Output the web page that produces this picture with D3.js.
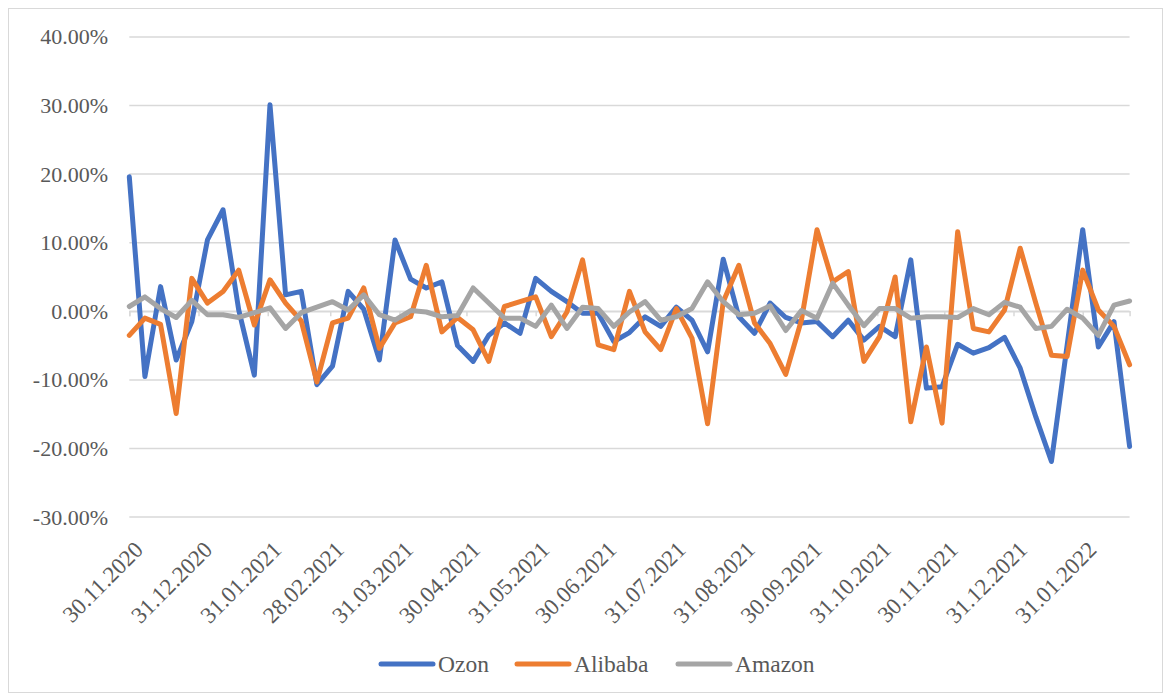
<!DOCTYPE html>
<html>
<head>
<meta charset="utf-8">
<script src="https://cdn.jsdelivr.net/npm/d3@7"></script>
<style>
    body { margin: 0; background: #fff; }
    text { font-family: "Liberation Serif", "Times New Roman", serif; fill: #595959; }
</style>
</head>
<body>
<svg id="chart" width="1169" height="698"></svg>
<script>
"use strict";

// weekly returns, first week 30.11.2020
var startDate = "30.11.2020";
var endDate = "21.02.2022";

var ozon = [19.6, -9.5, 3.6, -7.1, -1.5, 10.4, 14.8, 0.2, -9.3, 30.1,
    2.4, 2.9, -10.7, -8.0, 2.9, 0.3, -7.1, 10.4, 4.7, 3.4,
    4.3, -5.0, -7.3, -3.5, -1.7, -3.2, 4.8, 2.9, 1.4, -0.3,
    -0.3, -4.4, -3.1, -0.8, -2.2, 0.6, -1.3, -5.9, 7.6, -0.8,
    -3.2, 1.2, -0.9, -1.7, -1.5, -3.7, -1.3, -4.2, -2.2, -3.7,
    7.5, -11.2, -11.0, -4.8, -6.1, -5.3, -3.8, -8.3, -15.4, -21.9,
    -5.0, 11.9, -5.2, -1.5, -19.7];

var alibaba = [-3.5, -1.0, -1.9, -14.9, 4.8, 1.2, 2.9, 6.0, -2.0, 4.6,
    1.2, -1.4, -10.3, -1.7, -1.0, 3.4, -5.4, -1.7, -0.8, 6.7,
    -3.0, -0.9, -2.7, -7.3, 0.7, 1.4, 2.1, -3.7, -0.1, 7.5,
    -4.9, -5.6, 2.9, -3.0, -5.6, 0.4, -3.9, -16.4, 1.4, 6.7,
    -1.7, -4.7, -9.2, -1.3, 11.9, 4.3, 5.8, -7.3, -3.7, 5.0,
    -16.1, -5.2, -16.3, 11.6, -2.5, -3.0, 0.2, 9.2, 1.2, -6.4,
    -6.6, 6.0, 0.2, -2.2, -7.8];

var amazon = [0.7, 2.1, 0.4, -0.9, 1.6, -0.5, -0.5, -0.9, -0.2, 0.5,
    -2.5, -0.2, 0.6, 1.4, 0.2, 2.4, -0.5, -1.3, 0.1, -0.1,
    -0.8, -0.6, 3.4, 1.2, -1.0, -1.0, -2.2, 0.9, -2.5, 0.6,
    0.4, -2.2, -0.1, 1.4, -1.3, -0.8, 0.4, 4.3, 1.4, -0.5,
    -0.3, 0.8, -2.8, 0.1, -1.0, 4.1, 0.9, -2.1, 0.4, 0.4,
    -1.0, -0.8, -0.8, -0.9, 0.4, -0.5, 1.3, 0.6, -2.5, -2.2,
    0.3, -1.0, -3.5, 0.9, 1.5];

var tickLabels = ["30.11.2020", "31.12.2020", "31.01.2021", "28.02.2021", "31.03.2021",
    "30.04.2021", "31.05.2021", "30.06.2021", "31.07.2021", "31.08.2021",
    "30.09.2021", "31.10.2021", "30.11.2021", "31.12.2021", "31.01.2022"];

var yTicks = [-30, -20, -10, 0, 10, 20, 30, 40];

var seriesNames = ["Ozon", "Alibaba", "Amazon"];
var seriesColors = ["#4472C4", "#ED7D31", "#A5A5A5"];

var parseDate = d3.timeParse("%d.%m.%Y");
var dates = d3.timeMonday.range(parseDate(startDate), d3.timeDay.offset(parseDate(endDate), 1));

var svg = d3.select("#chart");

// outer chart border
svg.append("rect")
    .attr("x", 8.5).attr("y", 8.5)
    .attr("width", 1154).attr("height", 684)
    .attr("fill", "none")
    .attr("stroke", "#D9D9D9")
    .attr("stroke-width", 1);

var x = d3.scaleTime()
    .domain([parseDate(startDate), parseDate(endDate)])
    .range([129.3, 1129.6]);

var y = d3.scaleLinear()
    .domain([-30, 40])
    .range([517.1, 36.9]);

// gridlines
svg.append("g")
    .selectAll("line")
    .data(yTicks)
    .enter().append("line")
        .attr("x1", x.range()[0])
        .attr("x2", x.range()[1])
        .attr("y1", function(d) { return y(d); })
        .attr("y2", function(d) { return y(d); })
        .attr("stroke", "#D9D9D9")
        .attr("stroke-width", 1.5);

// y axis labels (plain hyphen for negatives, like the source)
var yAxis = d3.axisLeft(y)
    .tickValues(yTicks)
    .tickSize(0)
    .tickPadding(0)
    .tickFormat(function(d) { return (d < 0 ? "-" : "") + Math.abs(d).toFixed(2) + "%"; });

var yG = svg.append("g")
    .attr("transform", "translate(108,0)")
    .call(yAxis);
yG.select(".domain").remove();
yG.selectAll("text")
    .attr("font-size", 22)
    .style("font-family", "Liberation Serif, serif")
    .attr("fill", "#595959");

// x axis on zero line
var xAxis = d3.axisBottom(x)
    .tickValues(tickLabels.map(parseDate))
    .tickSize(5)
    .tickFormat(d3.timeFormat("%d.%m.%Y"));

var xG = svg.append("g")
    .attr("transform", "translate(0," + y(0) + ")")
    .call(xAxis);
xG.select(".domain").attr("stroke", "#D9D9D9").attr("stroke-width", 1.5);
xG.selectAll(".tick line").attr("stroke", "#D9D9D9").attr("stroke-width", 1.5);

// labels sit below the plot, rotated
xG.selectAll("text").remove();
svg.append("g")
    .selectAll("text")
    .data(tickLabels)
    .enter().append("text")
        .attr("transform", function(d) { return "translate(" + (x(parseDate(d)) + 3) + ",539) rotate(-45)"; })
        .attr("text-anchor", "end")
        .attr("dy", "0.75em")
        .attr("font-size", 23)
        .text(function(d) { return d; });

// series lines
var line = d3.line()
    .x(function(d, i) { return x(dates[i]); })
    .y(function(d) { return y(d); });

var allSeries = [ozon, alibaba, amazon];
var drawOrder = [0, 1, 2];

svg.append("g")
    .selectAll("path")
    .data(drawOrder)
    .enter().append("path")
        .attr("d", function(k) { return line(allSeries[k]); })
        .attr("fill", "none")
        .attr("stroke", function(k) { return seriesColors[k]; })
        .attr("stroke-width", 5)
        .attr("stroke-linejoin", "round")
        .attr("stroke-linecap", "round");

// legend
var legendX = [381, 517, 678];
var legend = svg.append("g")
    .selectAll("g")
    .data(seriesNames)
    .enter().append("g")
        .attr("transform", function(d, i) { return "translate(" + legendX[i] + ",664)"; });

legend.append("line")
    .attr("x1", 0).attr("x2", 52)
    .attr("y1", 0).attr("y2", 0)
    .attr("stroke", function(d, i) { return seriesColors[i]; })
    .attr("stroke-width", 5)
    .attr("stroke-linecap", "round");

legend.append("text")
    .attr("x", 57)
    .attr("dy", "0.35em")
    .attr("font-size", 23.5)
    .text(function(d) { return d; });
</script>
</body>
</html>
